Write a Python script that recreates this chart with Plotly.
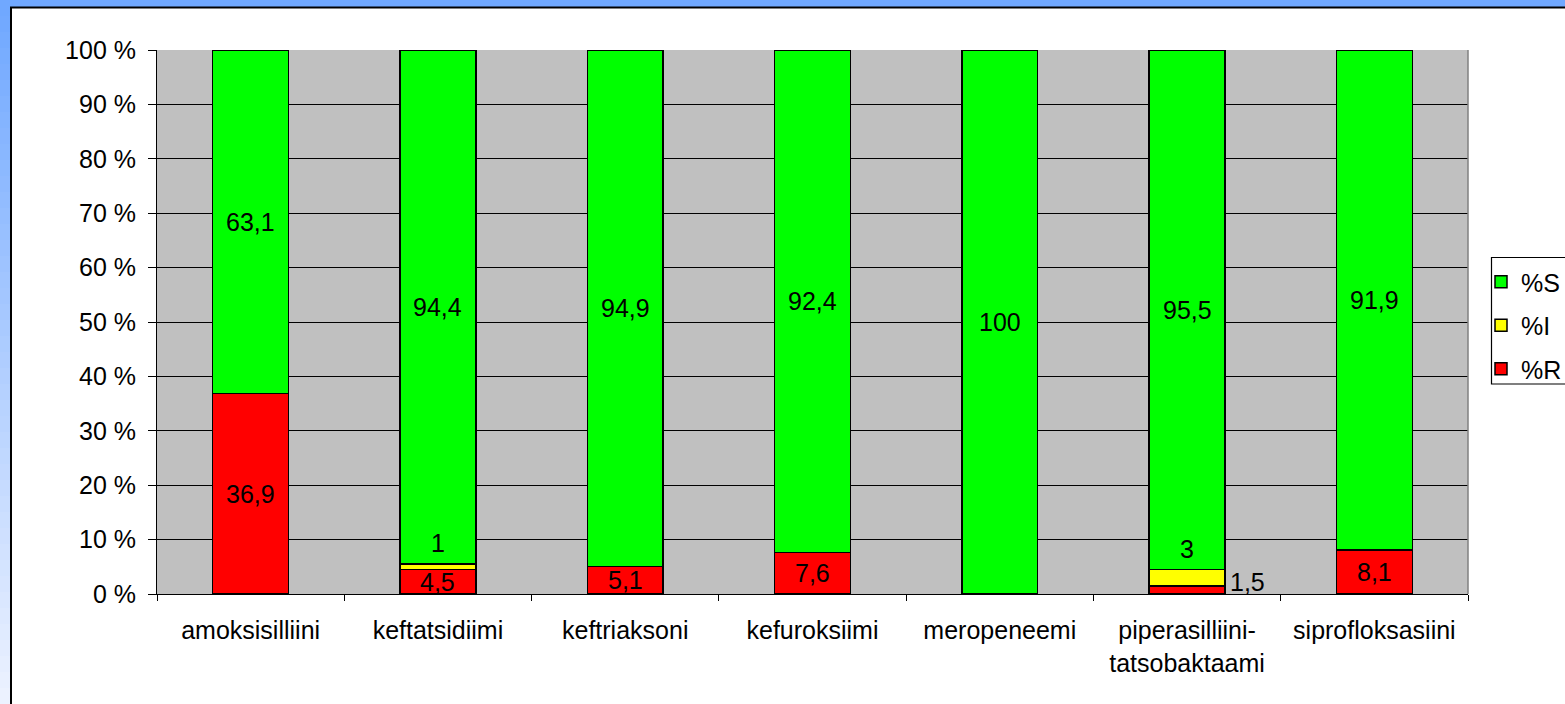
import plotly.graph_objects as go

# ---- data ----
categories = ["amoksisilliini", "keftatsidiimi", "keftriaksoni", "kefuroksiimi",
              "meropeneemi", "piperasilliini-tatsobaktaami", "siprofloksasiini"]
tick_labels = ["amoksisilliini", "keftatsidiimi", "keftriaksoni", "kefuroksiimi",
               "meropeneemi", "piperasilliini-<br>tatsobaktaami", "siprofloksasiini"]
pct_S = [63.1, 94.4, 94.9, 92.4, 100, 95.5, 91.9]
pct_I = [0, 1, 0, 0, 0, 3, 0]
pct_R = [36.9, 4.5, 5.1, 7.6, 0, 1.5, 8.1]
y_ticks = [0, 10, 20, 30, 40, 50, 60, 70, 80, 90, 100]
y_tick_text = [f"{v} %" for v in y_ticks]

FONT = "Arial, Liberation Sans, sans-serif"
FS = 25
W, H = 1565, 704
L, R_, T, B = 157, 97, 50, 110
PW, PH = W - L - R_, H - T - B


def px_x(px):
    return (px - L) / PW


def px_y(py):
    return (H - B - py) / PH


def fmt(v):
    return f"{v:g}".replace(".", ",")


fig = go.Figure()
line = dict(color="black", width=1.5)
fig.add_trace(go.Bar(name="%R", x=categories, y=pct_R, marker=dict(color="#FF0000", line=line),
                     legendgroup="R", legendrank=3))
fig.add_trace(go.Bar(name="%I", x=categories, y=pct_I, marker=dict(color="#FFFF00", line=line),
                     legendgroup="I", legendrank=2))
fig.add_trace(go.Bar(name="%S", x=categories, y=pct_S, marker=dict(color="#00FF00", line=line),
                     legendgroup="S", legendrank=1))

annotations = []
for c, s, i, r in zip(categories, pct_S, pct_I, pct_R):
    tot = s + i + r
    sn, inn, rn = s / tot * 100, i / tot * 100, r / tot * 100
    if s > 0:
        annotations.append(dict(x=c, y=rn + inn + sn / 2, text=fmt(s), showarrow=False))
    if i > 0:
        annotations.append(dict(x=c, y=rn + inn, text=fmt(i), showarrow=False,
                                yanchor="bottom", yshift=5))
    if r > 0:
        if rn < 3:
            annotations.append(dict(x=c, y=rn / 2, text=fmt(r), showarrow=False,
                                    xanchor="left", xshift=41, yshift=8))
        else:
            annotations.append(dict(x=c, y=rn / 2, text=fmt(r), showarrow=False))
for a in annotations:
    a["font"] = dict(family=FONT, size=FS, color="black")

# frame: blue top and left strips, black border
shapes = []
top = (112, 168, 255)
bot = (236, 242, 255)
n = 44
for k in range(n):
    t = k / (n - 1)
    col = tuple(int(top[j] + (bot[j] - top[j]) * t) for j in range(3))
    y0 = k * H / n
    y1 = (k + 1) * H / n + 1
    shapes.append(dict(type="rect", xref="paper", yref="paper",
                       x0=px_x(0), x1=px_x(10), y0=px_y(y1), y1=px_y(y0),
                       fillcolor=f"rgb{col}", line=dict(width=0), layer="above"))
shapes.append(dict(type="rect", xref="paper", yref="paper",
                   x0=px_x(0), x1=px_x(W), y0=px_y(7), y1=px_y(0),
                   fillcolor="rgb(112,168,255)", line=dict(width=0), layer="above"))
shapes.append(dict(type="line", xref="paper", yref="paper",
                   x0=px_x(11), x1=px_x(11), y0=px_y(H), y1=px_y(7),
                   line=dict(color="black", width=2)))
shapes.append(dict(type="line", xref="paper", yref="paper",
                   x0=px_x(10), x1=px_x(W), y0=px_y(7.5), y1=px_y(7.5),
                   line=dict(color="black", width=2)))
# right edge of plot area
shapes.append(dict(type="line", xref="paper", yref="paper",
                   x0=1, x1=1, y0=0, y1=1, line=dict(color="#808080", width=1.5)))
# legend frame
shapes.append(dict(type="rect", xref="paper", yref="paper",
                   x0=px_x(1491.5), x1=px_x(W + 5), y0=px_y(384), y1=px_y(257.5),
                   fillcolor="white", line=dict(color="black", width=1.2), layer="above"))

fig.update_layout(
    width=W, height=H, autosize=False,
    margin=dict(l=L, r=R_, t=T, b=B, autoexpand=False),
    paper_bgcolor="white", plot_bgcolor="#C0C0C0",
    barmode="stack", barnorm="percent", bargap=0.595,
    font=dict(family=FONT, size=FS, color="black"),
    showlegend=True,
    legend=dict(x=px_x(1481), y=px_y(259), xanchor="left", yanchor="top",
                borderwidth=0, bgcolor="rgba(0,0,0,0)",
                traceorder="grouped", tracegroupgap=8,
                font=dict(family=FONT, size=FS, color="black")),
    annotations=annotations,
    shapes=shapes,
    xaxis=dict(type="category", tickvals=categories, ticktext=tick_labels,
               tickson="boundaries", ticks="outside", ticklen=6, tickcolor="black",
               showline=True, linecolor="black", linewidth=1, showgrid=False,
               ticklabelstandoff=14,
               tickfont=dict(family=FONT, size=FS, color="black")),
    yaxis=dict(range=[0, 100], tickvals=y_ticks, ticktext=y_tick_text,
               ticks="outside", ticklen=8, tickcolor="black",
               showline=True, linecolor="black", linewidth=1,
               showgrid=True, gridcolor="black", gridwidth=1, zeroline=False,
               ticklabelstandoff=7,
               tickfont=dict(family=FONT, size=FS, color="black")),
)

fig.write_html("out.html", config={"displayModeBar": False},
               post_script="document.body.style.margin='0';")
